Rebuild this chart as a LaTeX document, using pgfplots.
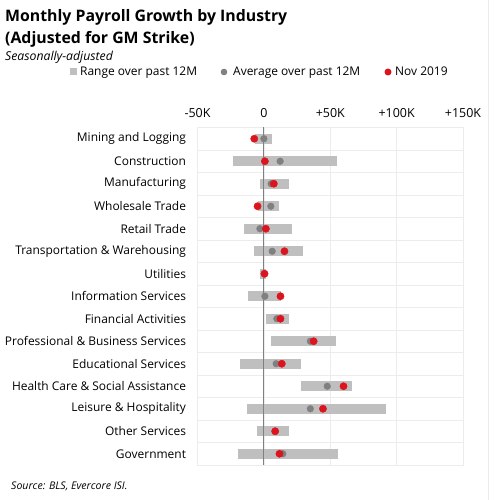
\documentclass[border=0pt]{standalone}
\usepackage{fontspec}
\setmainfont{Open Sans}
\usepackage{pgfplots}
\pgfplotsset{compat=1.18}
\definecolor{rangegray}{RGB}{191,191,191}
\definecolor{avggray}{RGB}{128,128,128}
\definecolor{novred}{RGB}{220,20,30}
\definecolor{gridc}{RGB}{236,236,236}
\begin{document}
\begin{tikzpicture}[x=1bp,y=1bp]
\useasboundingbox (0,0) rectangle (496,500);
\node[anchor=base west,inner sep=0,font=\fontsize{15.9}{18}\selectfont\bfseries] at (5,478.3) {Monthly Payroll Growth by Industry};
\node[anchor=base west,inner sep=0,font=\fontsize{15.9}{18}\selectfont\bfseries] at (5,456.7) {(Adjusted for GM Strike)};
\node[anchor=base west,inner sep=0,font=\fontsize{12.3}{14}\selectfont\itshape] at (5,439) {Seasonally-adjusted};
\node[anchor=base west,inner sep=0,font=\fontsize{10.6}{12}\selectfont\itshape] at (11,10) {Source: BLS, Evercore ISI.};
% legend
\fill[rangegray] (69.5,424.5) rectangle (76.5,431.5);
\node[anchor=base west,inner sep=0,font=\fontsize{12}{14}\selectfont] at (80,424) {Range over past 12M};
\fill[avggray] (224,428) circle (3.3);
\node[anchor=base west,inner sep=0,font=\fontsize{12}{14}\selectfont] at (233,424) {Average over past 12M};
\fill[novred] (388,428) circle (3.5);
\node[anchor=base west,inner sep=0,font=\fontsize{12}{14}\selectfont] at (395,424) {Nov 2019};
\draw[gridc] (488.5,0) -- (488.5,500);
\begin{axis}[
  at={(197.5bp,35bp)}, anchor=south west, scale only axis,
  width=265.5bp, height=337.5bp,
  xmin=-50, xmax=150, ymin=-0.5, ymax=14.5, y dir=reverse,
  xtick={-50,0,50,100,150},
  xticklabels={-50K,0,+50K,+100K,+150K},
  xticklabel pos=upper,
  ytick={0,1,2,3,4,5,6,7,8,9,10,11,12,13,14},
  yticklabels={Mining and Logging,Construction,Manufacturing,Wholesale Trade,Retail Trade,Transportation \& Warehousing,Utilities,Information Services,Financial Activities,Professional \& Business Services,Educational Services,Health Care \& Social Assistance,Leisure \& Hospitality,Other Services,Government},
  minor ytick={0.5,1.5,2.5,3.5,4.5,5.5,6.5,7.5,8.5,9.5,10.5,11.5,12.5,13.5},
  yminorgrids, xmajorgrids,
  major tick length=0, minor tick length=0,
  axis line style={gridc}, grid style={gridc, line width=0.6bp}, minor grid style={gridc, line width=0.6bp},
  yticklabel style={font=\fontsize{12}{14}\selectfont, anchor=east, xshift=-8bp},
  xticklabel style={font=\fontsize{12.5}{14}\selectfont, yshift=6bp},
  /pgf/number format/assume math mode=true,
]
% ranges over past 12M (thousands)
\addplot[rangegray, line width=10bp] coordinates {(-6.75,0) (6.25,0)};
\addplot[rangegray, line width=10bp] coordinates {(-23.25,1) (55.25,1)};
\addplot[rangegray, line width=10bp] coordinates {(-3,2) (19.25,2)};
\addplot[rangegray, line width=10bp] coordinates {(-4.5,3) (11.25,3)};
\addplot[rangegray, line width=10bp] coordinates {(-14.75,4) (21,4)};
\addplot[rangegray, line width=10bp] coordinates {(-7.75,5) (29.5,5)};
\addplot[rangegray, line width=10bp] coordinates {(-2.75,6) (1.75,6)};
\addplot[rangegray, line width=10bp] coordinates {(-12.25,7) (12.75,7)};
\addplot[rangegray, line width=10bp] coordinates {(1.25,8) (18.75,8)};
\addplot[rangegray, line width=10bp] coordinates {(5,9) (54,9)};
\addplot[rangegray, line width=10bp] coordinates {(-17.75,10) (28.25,10)};
\addplot[rangegray, line width=10bp] coordinates {(27.75,11) (66.5,11)};
\addplot[rangegray, line width=10bp] coordinates {(-13,12) (92.25,12)};
\addplot[rangegray, line width=10bp] coordinates {(-5.25,13) (19,13)};
\addplot[rangegray, line width=10bp] coordinates {(-19.25,14) (55.5,14)};
% zero line
\addplot[avggray, line width=0.9bp] coordinates {(0,-0.5) (0,14.5)};
% average over past 12M
\addplot[only marks, mark=*, mark size=3.35bp, avggray] coordinates {
(0,0) (12.25,1) (5.5,2) (5.25,3) (-3,4) (6.25,5) (0.25,6) (0.75,7) (9.75,8) (35,9) (9.25,10) (47.75,11) (35,12) (8.5,13) (14.25,14)};
% Nov 2019
\addplot[only marks, mark=*, mark size=3.65bp, novred] coordinates {
(-7.25,0) (0.75,1) (7.5,2) (-4.75,3) (1.5,4) (15.5,5) (0.5,6) (12.5,7) (12.5,8) (37.5,9) (13.5,10) (60,11) (44.5,12) (8.5,13) (11.75,14)};
\end{axis}
\end{tikzpicture}
\end{document}
